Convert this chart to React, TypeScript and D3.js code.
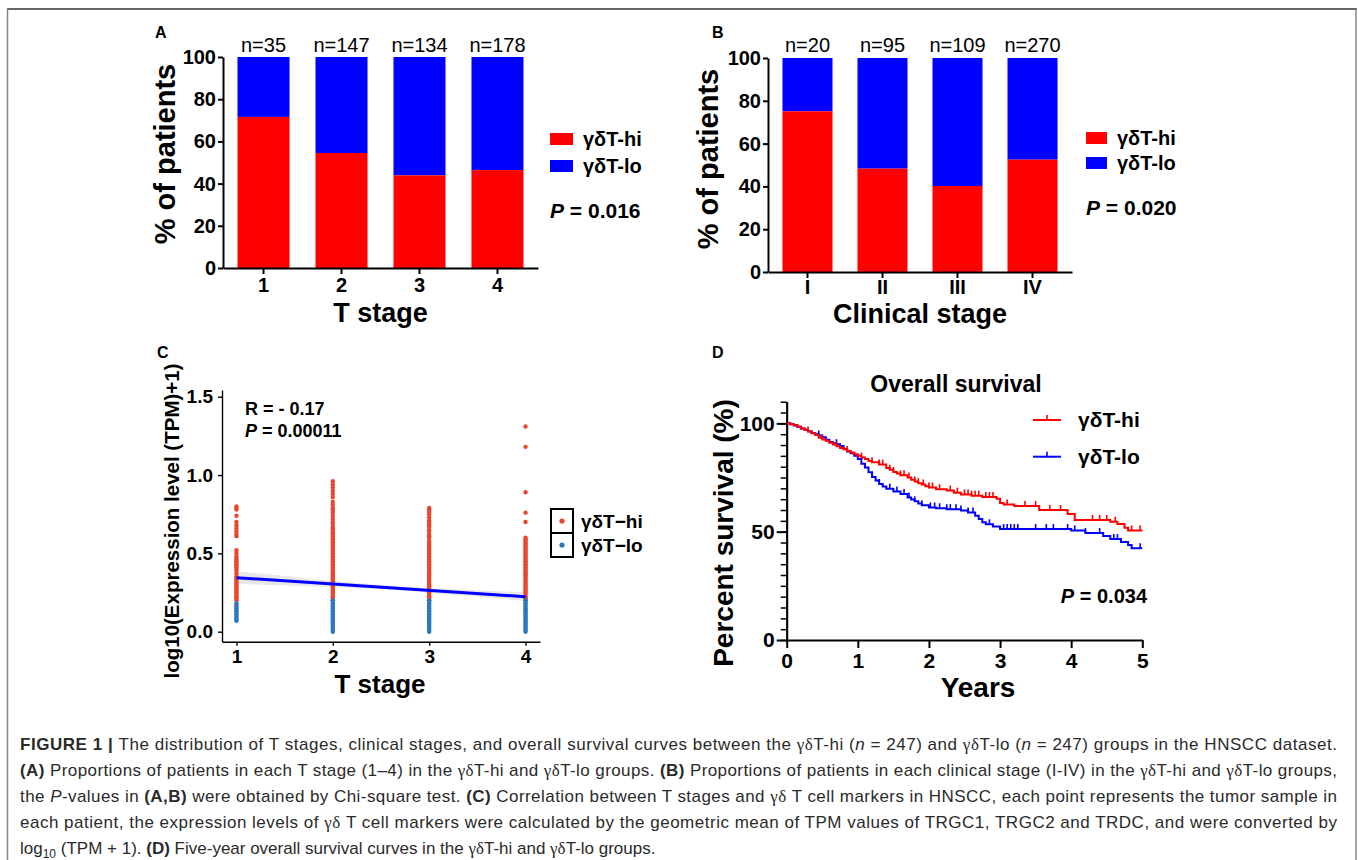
import * as d3 from 'd3'
import { useEffect, useRef } from 'react'

const FONT = '"Liberation Sans", Arial, Helvetica, sans-serif'
const RED = '#ff0000'
const BLUE = '#0000ff'
const PT_RED = '#e8472f'
const PT_BLUE = '#2a79bf'

// Panel A: T stage proportions (% γδT-hi, rest is γδT-lo)
const tStages = ['1', '2', '3', '4']
const tStageN = [35, 147, 134, 178]
const tStageHi = [71.6, 54.5, 43.9, 46.4]

// Panel B: clinical stage proportions
const clinStages = ['I', 'II', 'III', 'IV']
const clinN = [20, 95, 109, 270]
const clinHi = [75.1, 48.3, 40.2, 52.5]

const pctTicks = [0, 20, 40, 60, 80, 100]

// Panel C: expression per T stage, split by group
const exprHi: number[][] = [
  [0.80, 0.79, 0.78, 0.74, 0.70, 0.68, 0.66, 0.64, 0.62, 0.61, 0.52, 0.50, 0.48, 0.47, 0.46, 0.45, 0.44, 0.43, 0.42, 0.41, 0.40, 0.39, 0.37, 0.35, 0.34, 0.33, 0.32, 0.31, 0.30, 0.29, 0.28, 0.27, 0.26, 0.25, 0.24, 0.23, 0.22, 0.21, 0.20],
  [0.96, 0.94, 0.92, 0.90, 0.88, 0.86, 0.83, 0.81, 0.79, 0.78, 0.77, 0.76, 0.74, 0.72, 0.70, 0.69, 0.67, 0.66, 0.65, 0.64, 0.63, 0.62, 0.61, 0.60, 0.59, 0.58, 0.57, 0.56, 0.55, 0.54, 0.53, 0.52, 0.51, 0.50, 0.49, 0.48, 0.47, 0.46, 0.45, 0.44, 0.43, 0.42, 0.41, 0.40, 0.39, 0.38, 0.37, 0.36, 0.35, 0.34, 0.33, 0.32, 0.31, 0.30, 0.29, 0.28, 0.27, 0.26, 0.25, 0.24, 0.23, 0.22, 0.21, 0.20],
  [0.79, 0.78, 0.77, 0.76, 0.75, 0.73, 0.71, 0.70, 0.69, 0.68, 0.67, 0.65, 0.64, 0.62, 0.61, 0.60, 0.58, 0.57, 0.56, 0.55, 0.54, 0.53, 0.52, 0.51, 0.50, 0.49, 0.48, 0.47, 0.46, 0.45, 0.44, 0.43, 0.42, 0.41, 0.40, 0.39, 0.38, 0.37, 0.36, 0.35, 0.34, 0.33, 0.32, 0.31, 0.30, 0.29, 0.28, 0.27, 0.26, 0.25, 0.24, 0.23, 0.22, 0.21, 0.20],
  [1.31, 1.18, 0.89, 0.76, 0.70, 0.60, 0.59, 0.58, 0.57, 0.56, 0.55, 0.54, 0.53, 0.52, 0.51, 0.50, 0.49, 0.48, 0.47, 0.46, 0.45, 0.44, 0.43, 0.42, 0.41, 0.40, 0.39, 0.38, 0.37, 0.36, 0.35, 0.34, 0.33, 0.32, 0.31, 0.30, 0.29, 0.28, 0.27, 0.26, 0.25, 0.24, 0.23, 0.22, 0.21, 0.20],
]
const exprLo: number[][] = [
  [0.18, 0.17, 0.16, 0.15, 0.14, 0.13, 0.12, 0.11, 0.10, 0.09, 0.08, 0.07],
  [0.20, 0.19, 0.18, 0.17, 0.16, 0.15, 0.14, 0.13, 0.12, 0.11, 0.10, 0.09, 0.08, 0.07, 0.06, 0.05, 0.04, 0.03, 0.02, 0.01, 0.00],
  [0.20, 0.19, 0.18, 0.17, 0.16, 0.15, 0.14, 0.13, 0.12, 0.11, 0.10, 0.09, 0.08, 0.07, 0.06, 0.05, 0.04, 0.03, 0.02, 0.01, 0.00],
  [0.20, 0.19, 0.18, 0.17, 0.16, 0.15, 0.14, 0.13, 0.12, 0.11, 0.10, 0.09, 0.08, 0.07, 0.06, 0.05, 0.04, 0.03, 0.02, 0.01, 0.00],
]
const fitX = [1, 4]
const fitY = [0.345, 0.223]
const bandX = [1, 1.5, 2, 2.5, 3, 3.5, 4]
const bandLo = [0.305, 0.295, 0.285, 0.271, 0.249, 0.224, 0.195]
const bandHi = [0.385, 0.355, 0.325, 0.299, 0.279, 0.264, 0.251]
const exprTicks = [0, 0.5, 1.0, 1.5]

// Panel D: Kaplan-Meier steps [years, % survival]
const hiSteps: [number, number][] = [
  [0, 100], [0.05, 99.6], [0.1, 99.2], [0.15, 98.4], [0.2, 97.6], [0.25, 97], [0.3, 96.2], [0.35, 95.4], [0.4, 94.6], [0.45, 93.4],
  [0.5, 92.6], [0.55, 92], [0.6, 91], [0.65, 90.2], [0.7, 89.4], [0.75, 88.6], [0.8, 88], [0.85, 87.2], [0.9, 86.6], [0.95, 85.8],
  [1.0, 85], [1.05, 84.2], [1.1, 83.6], [1.15, 82.6], [1.2, 82], [1.3, 81], [1.4, 79.4], [1.45, 78.6], [1.5, 77.6], [1.55, 76.8],
  [1.6, 76], [1.7, 75], [1.75, 74], [1.8, 73.2], [1.85, 72.4], [1.9, 71.8], [1.95, 71], [2.0, 70.4], [2.1, 69.6], [2.25, 69],
  [2.35, 68], [2.45, 67.2], [2.6, 66.6], [2.75, 66], [2.95, 65.2], [3.0, 63.2], [3.05, 62.6], [3.2, 61.8], [3.55, 60], [3.95, 58.2],
  [4.05, 55.4], [4.55, 54.6], [4.65, 53.5], [4.75, 51.8], [4.8, 50.6], [5.0, 50.6],
]
const loSteps: [number, number][] = [
  [0, 100], [0.05, 99.6], [0.1, 99], [0.15, 98.4], [0.2, 97.6], [0.25, 97], [0.3, 96.4], [0.35, 95.6], [0.4, 95], [0.45, 94.4],
  [0.5, 93.6], [0.55, 92.4], [0.6, 91.4], [0.65, 90.8], [0.7, 90.4], [0.75, 89.6], [0.8, 88.2], [0.85, 87], [0.9, 86.2], [0.95, 85],
  [1.0, 83.6], [1.05, 81.4], [1.1, 79.6], [1.15, 77.4], [1.2, 75.2], [1.25, 73.6], [1.3, 72], [1.35, 70.8], [1.4, 69.8], [1.5, 68.6],
  [1.6, 67.4], [1.7, 65.8], [1.75, 64.8], [1.8, 64], [1.85, 63], [1.9, 62.2], [2.0, 61.2], [2.1, 60.8], [2.25, 60.4], [2.45, 59.8],
  [2.55, 58.8], [2.65, 57.4], [2.7, 55.8], [2.75, 54.4], [2.8, 53.4], [2.9, 52.4], [3.0, 51.2], [4.0, 50.6], [4.2, 49.4], [4.45, 48],
  [4.55, 46.6], [4.7, 45.2], [4.8, 43.8], [4.85, 42.4], [5.0, 42.4],
]
const hiCensor = [0.3, 0.5, 0.7, 0.85, 1.05, 1.2, 1.3, 1.35, 1.45, 1.5, 1.6, 1.65, 1.72, 1.8, 1.85, 1.92, 2.0, 2.05, 2.15, 2.3, 2.4, 2.5, 2.55, 2.6, 2.65, 2.7, 2.8, 2.85, 2.9, 3.1, 3.35, 3.5, 3.7, 3.85, 4.3, 4.4, 4.5, 4.62, 4.85, 4.97]
const loCensor = [0.45, 0.7, 1.3, 1.45, 1.55, 1.65, 1.72, 1.8, 1.9, 2.02, 2.08, 2.15, 2.25, 2.3, 2.38, 2.45, 2.55, 2.62, 2.85, 3.05, 3.1, 3.15, 3.2, 3.25, 3.5, 3.65, 3.75, 3.95, 4.05, 4.2, 4.4, 4.6, 4.65, 4.97]
const yearTicks = [0, 1, 2, 3, 4, 5]
const survTicks = [0, 50, 100]

type Seg = [string, string]
const captionLines: Seg[][] = [
  [['FIGURE 1 | ', 'b'], ['The distribution of T stages, clinical stages, and overall survival curves between the ', ''], ['γδ', 'g'], ['T-hi (', ''], ['n', 'i'], [' = 247) and ', ''], ['γδ', 'g'], ['T-lo (', ''], ['n', 'i'], [' = 247) groups in the HNSCC dataset.', '']],
  [['(A)', 'b'], [' Proportions of patients in each T stage (1–4) in the ', ''], ['γδ', 'g'], ['T-hi and ', ''], ['γδ', 'g'], ['T-lo groups. ', ''], ['(B)', 'b'], [' Proportions of patients in each clinical stage (I-IV) in the ', ''], ['γδ', 'g'], ['T-hi and ', ''], ['γδ', 'g'], ['T-lo groups,', '']],
  [['the ', ''], ['P', 'i'], ['-values in ', ''], ['(A,B)', 'b'], [' were obtained by Chi-square test. ', ''], ['(C)', 'b'], [' Correlation between T stages and ', ''], ['γδ', 'g'], [' T cell markers in HNSCC, each point represents the tumor sample in', '']],
  [['each patient, the expression levels of ', ''], ['γδ', 'g'], [' T cell markers were calculated by the geometric mean of TPM values of TRGC1, TRGC2 and TRDC, and were converted by', '']],
  [['log', ''], ['10', 'sub'], [' (TPM + 1). ', ''], ['(D)', 'b'], [' Five-year overall survival curves in the ', ''], ['γδ', 'g'], ['T-hi and ', ''], ['γδ', 'g'], ['T-lo groups.', '']],
]

type Sel = d3.Selection<SVGGElement, unknown, null, undefined>

function txt(g: Sel, x: number, y: number, s: string, size: number, opt: { anchor?: string; weight?: string; rotate?: boolean; fill?: string } = {}) {
  const t = g.append('text')
    .attr('font-family', FONT)
    .attr('font-size', size)
    .attr('font-weight', opt.weight ?? 'bold')
    .attr('fill', opt.fill ?? '#000')
    .attr('text-anchor', opt.anchor ?? 'start')
    .text(s)
  if (opt.rotate) {
    t.attr('transform', `translate(${x},${y}) rotate(-90)`).attr('dy', '0.35em')
  } else {
    t.attr('x', x).attr('y', y)
  }
  return t
}

function pValue(g: Sel, x: number, y: number, val: string, size: number, anchor = 'start') {
  const t = g.append('text')
    .attr('x', x).attr('y', y)
    .attr('font-family', FONT).attr('font-size', size).attr('font-weight', 'bold')
    .attr('text-anchor', anchor)
  t.append('tspan').attr('font-style', 'italic').text('P')
  t.append('tspan').text(` = ${val}`)
}

function styleAxis(a: Sel, size: number, stroke: number) {
  a.attr('font-family', FONT).attr('font-size', size).attr('font-weight', 'bold')
  a.selectAll('text').attr('fill', '#000')
  a.selectAll('line').attr('stroke', '#000').attr('stroke-width', stroke)
  a.select('.domain').attr('stroke', '#000').attr('stroke-width', stroke)
}

function barPanel(root: Sel, cfg: {
  cats: string[]; n: number[]; hi: number[]; x0: number; x1: number; y0: number; y1: number; outer: number
  xPad: number; title: string; titleY: number; ytX: number; ytY: number; legX: number; legY: number[]; legW: number; pX: number; pY: number; pVal: string; nY: number
}) {
  const g = root.append('g')
  const x = d3.scaleBand().domain(cfg.cats).range([cfg.x0, cfg.x1]).paddingInner(0.333).paddingOuter(cfg.outer)
  const y = d3.scaleLinear().domain([0, 100]).range([cfg.y0, cfg.y1])

  cfg.cats.forEach((c, i) => {
    g.append('rect').attr('x', x(c)!).attr('width', x.bandwidth())
      .attr('y', y(100)).attr('height', y(cfg.hi[i]) - y(100)).attr('fill', BLUE)
    g.append('rect').attr('x', x(c)!).attr('width', x.bandwidth())
      .attr('y', y(cfg.hi[i])).attr('height', y(0) - y(cfg.hi[i])).attr('fill', RED)
    txt(g, x(c)! + x.bandwidth() / 2, cfg.nY, `n=${cfg.n[i]}`, 20, { anchor: 'middle', weight: 'normal' })
  })

  const ya = g.append('g').attr('transform', `translate(${cfg.x0},0)`)
    .call(d3.axisLeft(y).tickValues(pctTicks).tickSize(5).tickPadding(2).tickSizeOuter(0)) as Sel
  styleAxis(ya, 20, 2)
  const xa = g.append('g').attr('transform', `translate(0,${cfg.y0})`)
    .call(d3.axisBottom(x).tickSize(6).tickPadding(cfg.xPad).tickSizeOuter(0)) as Sel
  styleAxis(xa, 20, 2)

  txt(g, (cfg.x0 + cfg.x1) / 2, cfg.titleY, cfg.title, 27, { anchor: 'middle' })
  txt(g, cfg.ytX, cfg.ytY, '% of patients', 29, { anchor: 'middle', rotate: true })

  const legend = [['γδT-hi', RED], ['γδT-lo', BLUE]]
  legend.forEach(([lab, col], i) => {
    g.append('rect').attr('x', cfg.legX).attr('y', cfg.legY[i]).attr('width', cfg.legW).attr('height', 12).attr('fill', col)
    txt(g, cfg.legX + cfg.legW + 10, cfg.legY[i] + 13, lab, 20)
  })
  pValue(g, cfg.pX, cfg.pY, cfg.pVal, 21)
}

function scatterPanel(root: Sel) {
  const g = root.append('g')
  const x = d3.scaleLinear().domain([0.85, 4.15]).range([222, 540])
  const y = d3.scaleLinear().domain([-0.064, 1.543]).range([641.7, 390])

  const band = d3.area<number>()
    .x((_, i) => x(bandX[i]))
    .y0((_, i) => y(bandLo[i]))
    .y1((_, i) => y(bandHi[i]))
    .curve(d3.curveMonotoneX)
  g.append('path').datum(bandX).attr('d', band).attr('fill', '#d9d9d9').attr('opacity', 0.6)

  exprHi.forEach((vals, i) => {
    g.selectAll(null).data(vals).enter().append('circle')
      .attr('cx', x(i + 1)).attr('cy', d => y(d)).attr('r', 2.2).attr('fill', PT_RED)
  })
  exprLo.forEach((vals, i) => {
    g.selectAll(null).data(vals).enter().append('circle')
      .attr('cx', x(i + 1)).attr('cy', d => y(d)).attr('r', 2.2).attr('fill', PT_BLUE)
  })

  const line = d3.line<number>().x((_, i) => x(fitX[i])).y((_, i) => y(fitY[i]))
  g.append('path').datum(fitX).attr('d', line).attr('stroke', BLUE).attr('stroke-width', 3).attr('fill', 'none')

  const ya = g.append('g').attr('transform', 'translate(222,0)')
    .call(d3.axisLeft(y).tickValues(exprTicks).tickFormat(d3.format('.1f')).tickSize(4).tickPadding(5).tickSizeOuter(0)) as Sel
  styleAxis(ya, 19, 1.4)
  const xa = g.append('g').attr('transform', 'translate(0,641.7)')
    .call(d3.axisBottom(x).tickValues([1, 2, 3, 4]).tickFormat(d3.format('d')).tickSize(4).tickPadding(4).tickSizeOuter(0)) as Sel
  styleAxis(xa, 19, 1.4)

  txt(g, 245, 415, 'R = - 0.17', 18)
  pValue(g, 245, 437, '0.00011', 18)
  txt(g, 380, 693, 'T stage', 26, { anchor: 'middle' })
  txt(g, 172, 521, 'log10(Expression level (TPM)+1)', 20.5, { anchor: 'middle', rotate: true })

  const leg = [['γδT−hi', PT_RED], ['γδT−lo', PT_BLUE]]
  leg.forEach(([lab, col], i) => {
    const yy = 509 + i * 24
    g.append('rect').attr('x', 551).attr('y', yy).attr('width', 22).attr('height', 24)
      .attr('fill', 'white').attr('stroke', '#000').attr('stroke-width', 2)
    g.append('circle').attr('cx', 562).attr('cy', yy + 12).attr('r', 2.6).attr('fill', col)
    txt(g, 581, yy + 19, lab, 19)
  })
}

function survPanel(root: Sel) {
  const g = root.append('g')
  const x = d3.scaleLinear().domain([0, 5]).range([786.7, 1142.3])
  const y = d3.scaleLinear().domain([0, 110]).range([640, 401.7])

  const minor = g.append('g').attr('transform', 'translate(786.7,0)')
    .call(d3.axisLeft(y).tickValues(d3.range(0, 111, 5)).tickSize(6).tickFormat(() => '').tickSizeOuter(0)) as Sel
  styleAxis(minor, 21, 1.5)
  const ya = g.append('g').attr('transform', 'translate(786.7,0)')
    .call(d3.axisLeft(y).tickValues(survTicks).tickSize(10).tickPadding(2).tickSizeOuter(0)) as Sel
  styleAxis(ya, 21, 2)
  const xa = g.append('g').attr('transform', 'translate(0,640)')
    .call(d3.axisBottom(x).tickValues(yearTicks).tickFormat(d3.format('d')).tickSize(8).tickPadding(5).tickSizeOuter(0)) as Sel
  styleAxis(xa, 21, 2)

  const step = d3.line<[number, number]>().x(d => x(d[0])).y(d => y(d[1])).curve(d3.curveStepAfter)
  const survAt = (steps: [number, number][], t: number) => {
    let s = steps[0][1]
    for (const [tt, v] of steps) if (tt <= t) s = v
    return s
  }
  const groups: [[number, number][], number[], string][] = [[loSteps, loCensor, BLUE], [hiSteps, hiCensor, RED]]
  groups.forEach(([steps, cens, col]) => {
    g.append('path').datum(steps).attr('d', step).attr('fill', 'none').attr('stroke', col).attr('stroke-width', 2)
    g.selectAll(null).data(cens).enter().append('line')
      .attr('x1', d => x(d)).attr('x2', d => x(d))
      .attr('y1', d => y(survAt(steps, d))).attr('y2', d => y(survAt(steps, d)) - 5)
      .attr('stroke', col).attr('stroke-width', 1.6)
  })

  txt(g, 956, 392, 'Overall survival', 23, { anchor: 'middle' })
  txt(g, 978, 697, 'Years', 28, { anchor: 'middle' })
  txt(g, 723, 533, 'Percent survival (%)', 28, { anchor: 'middle', rotate: true })

  const leg = [['γδT-hi', RED, 420], ['γδT-lo', BLUE, 456.7]] as [string, string, number][]
  leg.forEach(([lab, col, yy]) => {
    g.append('line').attr('x1', 1033).attr('x2', 1061).attr('y1', yy).attr('y2', yy).attr('stroke', col).attr('stroke-width', 2)
    g.append('line').attr('x1', 1047).attr('x2', 1047).attr('y1', yy).attr('y2', yy - 5).attr('stroke', col).attr('stroke-width', 1.6)
    txt(g, 1078, yy + 7, lab, 21)
  })
  pValue(g, 1147, 603, '0.034', 20, 'end')
}

function caption(root: Sel) {
  const g = root.append('g')
  const baselines = [750, 776, 802, 828, 854]
  captionLines.forEach((segs, li) => {
    const t = g.append('text').attr('x', 20).attr('y', baselines[li])
      .attr('font-family', FONT).attr('font-size', 17).attr('fill', '#2a2a2a')
    if (li < 4) t.attr('textLength', 1317).attr('lengthAdjust', 'spacing')
    let shifted = false
    segs.forEach(([s, st]) => {
      const sp = t.append('tspan').text(s)
      if (shifted) { sp.attr('dy', -4); shifted = false }
      if (st === 'b') sp.attr('font-weight', 'bold')
      if (st === 'i') sp.attr('font-style', 'italic')
      if (st === 'g') sp.attr('font-family', '"Liberation Serif", "DejaVu Serif", serif')
      if (st === 'sub') { sp.attr('font-size', 12).attr('dy', 4); shifted = true }
    })
  })
}

export default function App() {
  const svgRef = useRef<SVGSVGElement>(null)

  useEffect(() => {
    if (!svgRef.current) return
    const svg = d3.select(svgRef.current)
    svg.selectAll('*').remove()
    const root = svg.append('g') as Sel

    // figure frame
    root.append('line').attr('x1', 7).attr('x2', 1357).attr('y1', 9).attr('y2', 9).attr('stroke', '#333').attr('stroke-width', 1.5)
    root.append('line').attr('x1', 7.5).attr('x2', 7.5).attr('y1', 9).attr('y2', 860).attr('stroke', '#888').attr('stroke-width', 1.5)
    root.append('line').attr('x1', 1356).attr('x2', 1356).attr('y1', 9).attr('y2', 860).attr('stroke', '#888').attr('stroke-width', 1.5)

    barPanel(root, {
      cats: tStages, n: tStageN, hi: tStageHi, x0: 223, x1: 538, y0: 268, y1: 57, outer: 0.186,
      xPad: 4, title: 'T stage', titleY: 322, ytX: 165, ytY: 154, legX: 550, legY: [133, 160], legW: 23,
      pX: 550, pY: 218, pVal: '0.016', nY: 52,
    })
    barPanel(root, {
      cats: clinStages, n: clinN, hi: clinHi, x0: 768, x1: 1072, y0: 272, y1: 58, outer: 0.193,
      xPad: 2, title: 'Clinical stage', titleY: 323, ytX: 708, ytY: 159, legX: 1086, legY: [132, 157], legW: 21,
      pX: 1086, pY: 215, pVal: '0.020', nY: 52,
    })
    scatterPanel(root)
    survPanel(root)

    const letters: [string, number, number][] = [['A', 155, 38], ['B', 712, 38], ['C', 157, 358], ['D', 712, 358]]
    letters.forEach(([l, lx, ly]) => txt(root, lx, ly, l, 16))

    caption(root)
  }, [])

  return (
    <svg ref={svgRef} width={1358} height={860}
      style={{ position: 'absolute', left: 0, top: 0, background: '#fff' }} />
  )
}
